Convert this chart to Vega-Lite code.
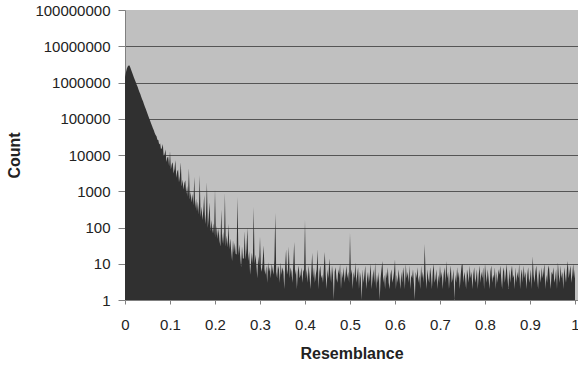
{
"$schema": "https://vega.github.io/schema/vega-lite/v6.json",
"autosize": {"type": "none"},
"padding": {"left": 125, "top": 10, "right": 0, "bottom": 65},
"width": 453,
"height": 290,
"background": "white",
"data": {"values": [
{"r":0,"count":1410000},{"r":0.002,"count":1900000},{"r":0.004,"count":2400000},{"r":0.006,"count":2750000},{"r":0.008,"count":2950000},
{"r":0.01,"count":2950000},{"r":0.012,"count":2570000},{"r":0.014,"count":2190000},{"r":0.016,"count":1860000},{"r":0.018,"count":1580000},
{"r":0.02,"count":1350000},{"r":0.022,"count":1170000},{"r":0.024,"count":1020000},{"r":0.026,"count":870000},{"r":0.028,"count":760000},
{"r":0.03,"count":645000},{"r":0.032,"count":550000},{"r":0.034,"count":480000},{"r":0.036,"count":407000},{"r":0.038,"count":347000},
{"r":0.04,"count":302000},{"r":0.042,"count":257000},{"r":0.044,"count":219000},{"r":0.046,"count":190000},{"r":0.048,"count":162000},
{"r":0.05,"count":138000},{"r":0.052,"count":117000},{"r":0.054,"count":100000},{"r":0.056,"count":87000},{"r":0.058,"count":74000},
{"r":0.06,"count":64500},{"r":0.062,"count":55000},{"r":0.064,"count":47900},{"r":0.066,"count":40700},{"r":0.068,"count":35500},
{"r":0.07,"count":33000},{"r":0.072,"count":26300},{"r":0.074,"count":26000},{"r":0.076,"count":19500},{"r":0.078,"count":21000},
{"r":0.08,"count":14500},{"r":0.082,"count":15500},{"r":0.084,"count":20000},{"r":0.086,"count":9300},{"r":0.088,"count":10500},
{"r":0.09,"count":14100},{"r":0.092,"count":6450},{"r":0.094,"count":8500},{"r":0.096,"count":8900},{"r":0.098,"count":4900},
{"r":0.1,"count":12600},{"r":0.102,"count":4070},{"r":0.104,"count":5600},{"r":0.106,"count":6300},{"r":0.108,"count":3090},
{"r":0.11,"count":4200},{"r":0.112,"count":7200},{"r":0.114,"count":2340},{"r":0.116,"count":3500},{"r":0.118,"count":4000},
{"r":0.12,"count":1780},{"r":0.122,"count":2600},{"r":0.124,"count":6300},{"r":0.126,"count":1350},{"r":0.128,"count":2100},
{"r":0.13,"count":1120},{"r":0.132,"count":1700},{"r":0.134,"count":2000},{"r":0.136,"count":850},{"r":0.138,"count":1400},
{"r":0.14,"count":710},{"r":0.142,"count":4400},{"r":0.144,"count":590},{"r":0.146,"count":950},{"r":0.148,"count":490},
{"r":0.15,"count":850},{"r":0.152,"count":410},{"r":0.154,"count":2500},{"r":0.156,"count":340},{"r":0.158,"count":620},
{"r":0.16,"count":280},{"r":0.162,"count":520},{"r":0.164,"count":230},{"r":0.166,"count":2800},{"r":0.168,"count":195},
{"r":0.17,"count":380},{"r":0.172,"count":160},{"r":0.174,"count":290},{"r":0.176,"count":790},{"r":0.178,"count":125},
{"r":0.18,"count":230},{"r":0.182,"count":1780},{"r":0.184,"count":98},{"r":0.186,"count":190},{"r":0.188,"count":500},
{"r":0.19,"count":79},{"r":0.192,"count":160},{"r":0.194,"count":69},{"r":0.196,"count":130},{"r":0.198,"count":62},
{"r":0.2,"count":1120},{"r":0.202,"count":54},{"r":0.204,"count":110},{"r":0.206,"count":48},{"r":0.208,"count":95},
{"r":0.21,"count":43},{"r":0.212,"count":30},{"r":0.214,"count":316},{"r":0.216,"count":36},{"r":0.218,"count":75},
{"r":0.22,"count":33},{"r":0.222,"count":890},{"r":0.224,"count":30},{"r":0.226,"count":60},{"r":0.228,"count":28},
{"r":0.23,"count":126},{"r":0.232,"count":25},{"r":0.234,"count":50},{"r":0.236,"count":23},{"r":0.238,"count":12},
{"r":0.24,"count":45},{"r":0.242,"count":20},{"r":0.244,"count":38},{"r":0.246,"count":19},{"r":0.248,"count":18},
{"r":0.25,"count":710},{"r":0.252,"count":17},{"r":0.254,"count":34},{"r":0.256,"count":16},{"r":0.258,"count":8},
{"r":0.26,"count":30},{"r":0.262,"count":14},{"r":0.264,"count":14},{"r":0.266,"count":79},{"r":0.268,"count":13},
{"r":0.27,"count":26},{"r":0.272,"count":100},{"r":0.274,"count":12},{"r":0.276,"count":22},{"r":0.278,"count":5},
{"r":0.28,"count":11},{"r":0.282,"count":20},{"r":0.284,"count":10},{"r":0.286,"count":370},{"r":0.288,"count":10},
{"r":0.29,"count":18},{"r":0.292,"count":9},{"r":0.294,"count":4},{"r":0.296,"count":16},{"r":0.298,"count":9},
{"r":0.3,"count":56},{"r":0.302,"count":8},{"r":0.304,"count":6},{"r":0.306,"count":12},{"r":0.308,"count":32},
{"r":0.31,"count":7},{"r":0.312,"count":5},{"r":0.314,"count":9},{"r":0.316,"count":3},{"r":0.318,"count":11},
{"r":0.32,"count":6},{"r":0.322,"count":8},{"r":0.324,"count":4},{"r":0.326,"count":10},{"r":0.328,"count":7},
{"r":0.33,"count":5},{"r":0.332,"count":13},{"r":0.334,"count":250},{"r":0.336,"count":6},{"r":0.338,"count":4},
{"r":0.34,"count":9},{"r":0.342,"count":7},{"r":0.344,"count":3},{"r":0.346,"count":11},{"r":0.348,"count":5},
{"r":0.35,"count":8},{"r":0.352,"count":6},{"r":0.354,"count":2},{"r":0.356,"count":9},{"r":0.358,"count":25},
{"r":0.36,"count":5},{"r":0.362,"count":7},{"r":0.364,"count":30},{"r":0.366,"count":4},{"r":0.368,"count":8},
{"r":0.37,"count":6},{"r":0.372,"count":3},{"r":0.374,"count":10},{"r":0.376,"count":40},{"r":0.378,"count":5},
{"r":0.38,"count":7},{"r":0.382,"count":2},{"r":0.384,"count":6},{"r":0.386,"count":9},{"r":0.388,"count":4},
{"r":0.39,"count":5},{"r":0.392,"count":8},{"r":0.394,"count":3},{"r":0.396,"count":6},{"r":0.398,"count":7},
{"r":0.4,"count":160},{"r":0.402,"count":4},{"r":0.404,"count":7},{"r":0.406,"count":3},{"r":0.408,"count":9},
{"r":0.41,"count":5},{"r":0.412,"count":2},{"r":0.414,"count":6},{"r":0.416,"count":20},{"r":0.418,"count":4},
{"r":0.42,"count":8},{"r":0.422,"count":3},{"r":0.424,"count":5},{"r":0.426,"count":7},{"r":0.428,"count":25},
{"r":0.43,"count":2},{"r":0.432,"count":6},{"r":0.434,"count":9},{"r":0.436,"count":4},{"r":0.438,"count":5},
{"r":0.44,"count":3},{"r":0.442,"count":8},{"r":0.444,"count":21},{"r":0.446,"count":5},{"r":0.448,"count":2},
{"r":0.45,"count":7},{"r":0.452,"count":4},{"r":0.454,"count":14},{"r":0.456,"count":6},{"r":0.458,"count":3},
{"r":0.46,"count":9},{"r":0.462,"count":5},{"r":0.464,"count":1},{"r":0.466,"count":6},{"r":0.468,"count":8},
{"r":0.47,"count":4},{"r":0.472,"count":3},{"r":0.474,"count":7},{"r":0.476,"count":5},{"r":0.478,"count":10},
{"r":0.48,"count":2},{"r":0.482,"count":6},{"r":0.484,"count":4},{"r":0.486,"count":8},{"r":0.488,"count":3},
{"r":0.49,"count":5},{"r":0.492,"count":9},{"r":0.494,"count":4},{"r":0.496,"count":6},{"r":0.498,"count":3},
{"r":0.5,"count":70},{"r":0.502,"count":5},{"r":0.504,"count":7},{"r":0.506,"count":2},{"r":0.508,"count":6},
{"r":0.51,"count":4},{"r":0.512,"count":11},{"r":0.514,"count":3},{"r":0.516,"count":5},{"r":0.518,"count":8},
{"r":0.52,"count":2},{"r":0.522,"count":6},{"r":0.524,"count":4},{"r":0.526,"count":1},{"r":0.528,"count":7},
{"r":0.53,"count":3},{"r":0.532,"count":5},{"r":0.534,"count":9},{"r":0.536,"count":2},{"r":0.538,"count":4},
{"r":0.54,"count":6},{"r":0.542,"count":3},{"r":0.544,"count":5},{"r":0.546,"count":10},{"r":0.548,"count":2},
{"r":0.55,"count":4},{"r":0.552,"count":7},{"r":0.554,"count":3},{"r":0.556,"count":11},{"r":0.558,"count":2},
{"r":0.56,"count":5},{"r":0.562,"count":3},{"r":0.564,"count":6},{"r":0.566,"count":1},{"r":0.568,"count":4},
{"r":0.57,"count":7},{"r":0.572,"count":12},{"r":0.574,"count":3},{"r":0.576,"count":5},{"r":0.578,"count":2},
{"r":0.58,"count":6},{"r":0.582,"count":4},{"r":0.584,"count":8},{"r":0.586,"count":3},{"r":0.588,"count":2},
{"r":0.59,"count":5},{"r":0.592,"count":7},{"r":0.594,"count":3},{"r":0.596,"count":4},{"r":0.598,"count":6},
{"r":0.6,"count":13},{"r":0.602,"count":2},{"r":0.604,"count":5},{"r":0.606,"count":3},{"r":0.608,"count":7},
{"r":0.61,"count":4},{"r":0.612,"count":2},{"r":0.614,"count":6},{"r":0.616,"count":3},{"r":0.618,"count":8},
{"r":0.62,"count":5},{"r":0.622,"count":2},{"r":0.624,"count":10},{"r":0.626,"count":4},{"r":0.628,"count":6},
{"r":0.63,"count":3},{"r":0.632,"count":9},{"r":0.634,"count":2},{"r":0.636,"count":5},{"r":0.638,"count":4},
{"r":0.64,"count":7},{"r":0.642,"count":3},{"r":0.644,"count":1},{"r":0.646,"count":6},{"r":0.648,"count":4},
{"r":0.65,"count":8},{"r":0.652,"count":3},{"r":0.654,"count":5},{"r":0.656,"count":2},{"r":0.658,"count":9},
{"r":0.66,"count":4},{"r":0.662,"count":6},{"r":0.664,"count":3},{"r":0.666,"count":35},{"r":0.668,"count":5},
{"r":0.67,"count":2},{"r":0.672,"count":7},{"r":0.674,"count":4},{"r":0.676,"count":3},{"r":0.678,"count":8},
{"r":0.68,"count":5},{"r":0.682,"count":2},{"r":0.684,"count":6},{"r":0.686,"count":10},{"r":0.688,"count":3},
{"r":0.69,"count":4},{"r":0.692,"count":7},{"r":0.694,"count":2},{"r":0.696,"count":5},{"r":0.698,"count":3},
{"r":0.7,"count":9},{"r":0.702,"count":4},{"r":0.704,"count":6},{"r":0.706,"count":2},{"r":0.708,"count":5},
{"r":0.71,"count":8},{"r":0.712,"count":3},{"r":0.714,"count":12},{"r":0.716,"count":4},{"r":0.718,"count":6},
{"r":0.72,"count":2},{"r":0.722,"count":5},{"r":0.724,"count":9},{"r":0.726,"count":3},{"r":0.728,"count":4},
{"r":0.73,"count":7},{"r":0.732,"count":1},{"r":0.734,"count":5},{"r":0.736,"count":3},{"r":0.738,"count":8},
{"r":0.74,"count":4},{"r":0.742,"count":6},{"r":0.744,"count":2},{"r":0.746,"count":5},{"r":0.748,"count":9},
{"r":0.75,"count":10},{"r":0.752,"count":3},{"r":0.754,"count":6},{"r":0.756,"count":4},{"r":0.758,"count":2},
{"r":0.76,"count":7},{"r":0.762,"count":5},{"r":0.764,"count":3},{"r":0.766,"count":9},{"r":0.768,"count":4},
{"r":0.77,"count":6},{"r":0.772,"count":2},{"r":0.774,"count":5},{"r":0.776,"count":8},{"r":0.778,"count":3},
{"r":0.78,"count":4},{"r":0.782,"count":7},{"r":0.784,"count":2},{"r":0.786,"count":5},{"r":0.788,"count":9},
{"r":0.79,"count":3},{"r":0.792,"count":6},{"r":0.794,"count":4},{"r":0.796,"count":8},{"r":0.798,"count":2},
{"r":0.8,"count":10},{"r":0.802,"count":5},{"r":0.804,"count":3},{"r":0.806,"count":7},{"r":0.808,"count":4},
{"r":0.81,"count":2},{"r":0.812,"count":6},{"r":0.814,"count":9},{"r":0.816,"count":3},{"r":0.818,"count":5},
{"r":0.82,"count":4},{"r":0.822,"count":8},{"r":0.824,"count":2},{"r":0.826,"count":6},{"r":0.828,"count":3},
{"r":0.83,"count":7},{"r":0.832,"count":5},{"r":0.834,"count":9},{"r":0.836,"count":4},{"r":0.838,"count":2},
{"r":0.84,"count":6},{"r":0.842,"count":8},{"r":0.844,"count":3},{"r":0.846,"count":5},{"r":0.848,"count":10},
{"r":0.85,"count":4},{"r":0.852,"count":2},{"r":0.854,"count":7},{"r":0.856,"count":3},{"r":0.858,"count":6},
{"r":0.86,"count":9},{"r":0.862,"count":4},{"r":0.864,"count":5},{"r":0.866,"count":2},{"r":0.868,"count":8},
{"r":0.87,"count":3},{"r":0.872,"count":6},{"r":0.874,"count":4},{"r":0.876,"count":10},{"r":0.878,"count":2},
{"r":0.88,"count":5},{"r":0.882,"count":7},{"r":0.884,"count":3},{"r":0.886,"count":9},{"r":0.888,"count":4},
{"r":0.89,"count":6},{"r":0.892,"count":2},{"r":0.894,"count":5},{"r":0.896,"count":8},{"r":0.898,"count":3},
{"r":0.9,"count":4},{"r":0.902,"count":7},{"r":0.904,"count":2},{"r":0.906,"count":16},{"r":0.908,"count":5},
{"r":0.91,"count":3},{"r":0.912,"count":6},{"r":0.914,"count":9},{"r":0.916,"count":4},{"r":0.918,"count":2},
{"r":0.92,"count":7},{"r":0.922,"count":5},{"r":0.924,"count":3},{"r":0.926,"count":8},{"r":0.928,"count":4},
{"r":0.93,"count":6},{"r":0.932,"count":10},{"r":0.934,"count":2},{"r":0.936,"count":5},{"r":0.938,"count":3},
{"r":0.94,"count":7},{"r":0.942,"count":9},{"r":0.944,"count":4},{"r":0.946,"count":2},{"r":0.948,"count":6},
{"r":0.95,"count":5},{"r":0.952,"count":8},{"r":0.954,"count":3},{"r":0.956,"count":4},{"r":0.958,"count":7},
{"r":0.96,"count":2},{"r":0.962,"count":11},{"r":0.964,"count":5},{"r":0.966,"count":3},{"r":0.968,"count":9},
{"r":0.97,"count":4},{"r":0.972,"count":6},{"r":0.974,"count":2},{"r":0.976,"count":8},{"r":0.978,"count":5},
{"r":0.98,"count":3},{"r":0.982,"count":7},{"r":0.984,"count":12},{"r":0.986,"count":4},{"r":0.988,"count":6},
{"r":0.99,"count":9},{"r":0.992,"count":3},{"r":0.994,"count":5},{"r":0.996,"count":10},{"r":0.998,"count":4},
{"r":1,"count":7}
]},
"mark": {"type": "area", "color": "#303030", "clip": true},
"encoding": {
  "x": {"field": "r", "type": "quantitative",
    "scale": {"domain": [0, 1.00667], "nice": false, "zero": false},
    "axis": {"values": [0,0.1,0.2,0.3,0.4,0.5,0.6,0.7,0.8,0.9,1], "format": "~g", "grid": false,
      "title": "Resemblance", "tickSize": 4, "labelPadding": 13, "titlePadding": 13, "labelFlush": false, "labelOverlap": false}},
  "y": {"field": "count", "type": "quantitative",
    "scale": {"type": "log", "domain": [1, 100000000], "nice": false},
    "axis": {"values": [1,10,100,1000,10000,100000,1000000,10000000,100000000], "format": "d",
      "title": "Count", "tickSize": 7, "labelPadding": 8, "titlePadding": 12, "labelFlush": false, "labelOverlap": false,
      "grid": true,
      "gridColor": {"condition": {"test": "datum.value >= 100000000 || datum.value <= 1", "value": "transparent"}, "value": "#555555"}}},
  "y2": {"datum": 1}
},
"config": {
  "view": {"fill": "#c0c0c0", "stroke": null},
  "axis": {
    "labelFont": "Liberation Sans", "labelFontSize": 15, "labelColor": "#222222",
    "titleFont": "Liberation Sans", "titleFontSize": 16, "titleFontWeight": "bold", "titleColor": "#222222",
    "domainColor": "#808080", "tickColor": "#808080", "gridWidth": 1
  }
}
}
